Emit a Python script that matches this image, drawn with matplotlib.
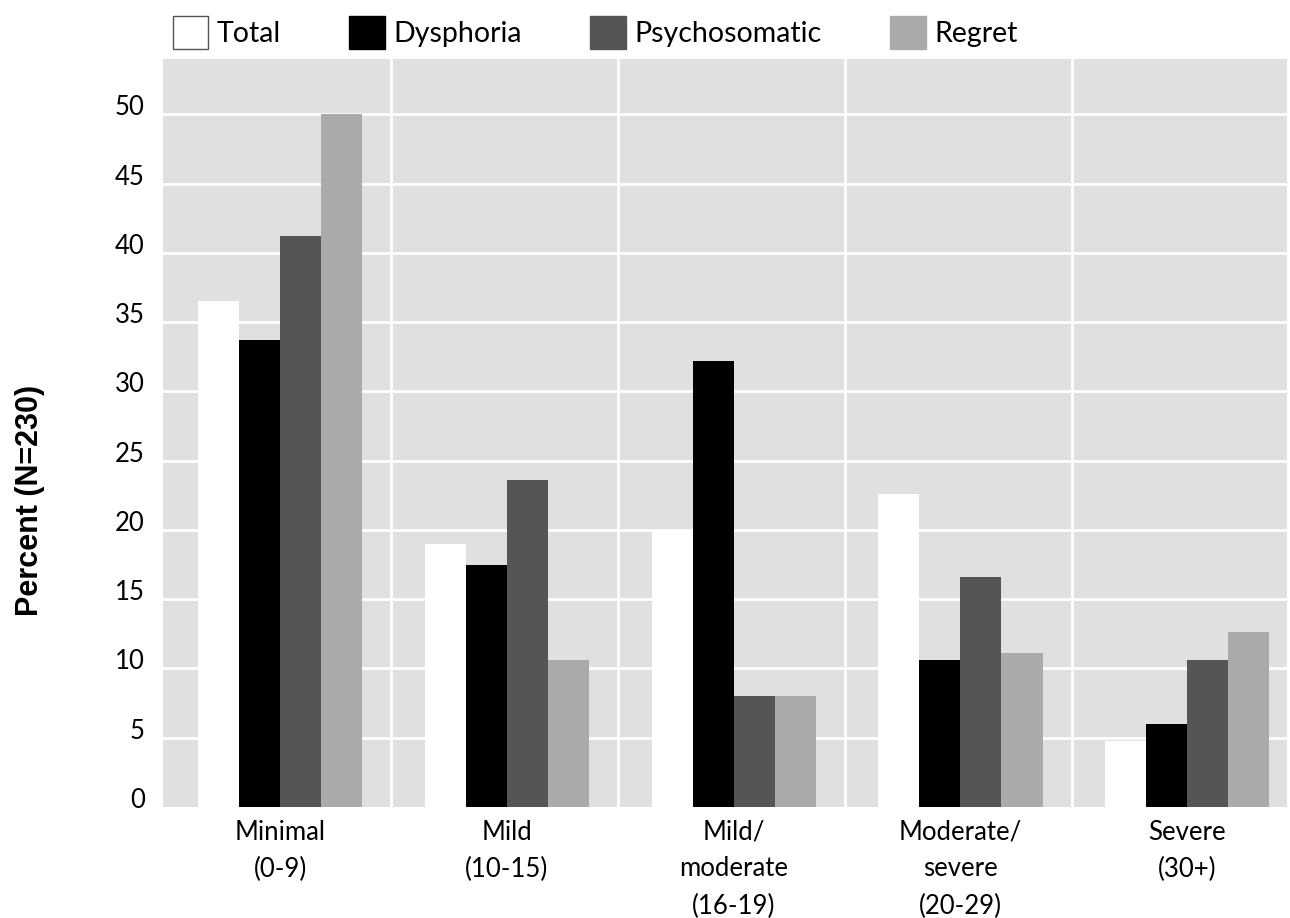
import numpy as np
import matplotlib
matplotlib.use("Agg")
import matplotlib.pyplot as plt
import matplotlib.transforms as mtransforms
from matplotlib.patches import Patch

# Data
categories = ["Minimal\n(0-9)", "Mild\n(10-15)", "Mild/\nmoderate\n(16-19)",
              "Moderate/\nsevere\n(20-29)", "Severe\n(30+)"]
series = ["Total", "Dysphoria", "Psychosomatic", "Regret"]
total = [36.5, 19.0, 20.0, 22.6, 4.8]
dysphoria = [33.7, 17.5, 32.2, 10.6, 6.0]
psychosomatic = [41.2, 23.6, 8.0, 16.6, 10.6]
regret = [50.0, 10.6, 8.0, 11.1, 12.6]
values = [total, dysphoria, psychosomatic, regret]
colors = ["#ffffff", "#000000", "#555555", "#aaaaaa"]

plt.rcParams['font.family'] = ['Lato', 'DejaVu Sans']

fig = plt.figure(figsize=(12.9, 9.18), dpi=100)
ax = fig.add_axes([163/1290, 1 - 807/918, (1287-163)/1290, (807-59)/918])
ax.set_facecolor("#e0e0e0")

x = np.arange(len(categories))
width = 0.181
for k, (name, vals, col) in enumerate(zip(series, values, colors)):
    ax.bar(x + (k - 1.5) * width, vals, width, color=col, zorder=3, label=name)

ax.set_xlim(-0.516, 4.44)
ax.set_ylim(0, 54)
ax.set_yticks(np.arange(0, 51, 5))
for yv in np.arange(5, 51, 5):
    ax.axhline(yv, color="white", lw=2, zorder=1)
for sep in x[:-1] + 0.49:
    ax.axvline(sep, color="white", lw=2, zorder=1)

ax.set_xticks(x)
ax.set_xticklabels(categories, fontsize=18.5, linespacing=1.6)
ax.tick_params(axis="both", length=0, labelsize=18.5)
ax.tick_params(axis="y", pad=13)
ax.tick_params(axis="x", pad=9)
off = mtransforms.ScaledTranslation(0, 9/100, fig.dpi_scale_trans)
for lab in ax.get_yticklabels():
    lab.set_transform(lab.get_transform() + off)
for s in ax.spines.values():
    s.set_visible(False)

fig.text(30/1290, 1 - 500/918, "Percent (N=230)", rotation=90, fontsize=22,
         fontweight="bold", family=["Liberation Sans", "DejaVu Sans"],
         ha="center", va="center")

handles = [Patch(facecolor=c, edgecolor="#555555" if c == "#ffffff" else c, lw=1)
           for c in colors]
fig.legend(handles, series, loc="upper left", bbox_to_anchor=(157/1290, 1.0),
           ncol=4, frameon=False, fontsize=20.5, handlelength=1.25, handleheight=1.45,
           handletextpad=0.3, columnspacing=2.4, borderaxespad=0.15)

fig.savefig("out.png", dpi=100)
